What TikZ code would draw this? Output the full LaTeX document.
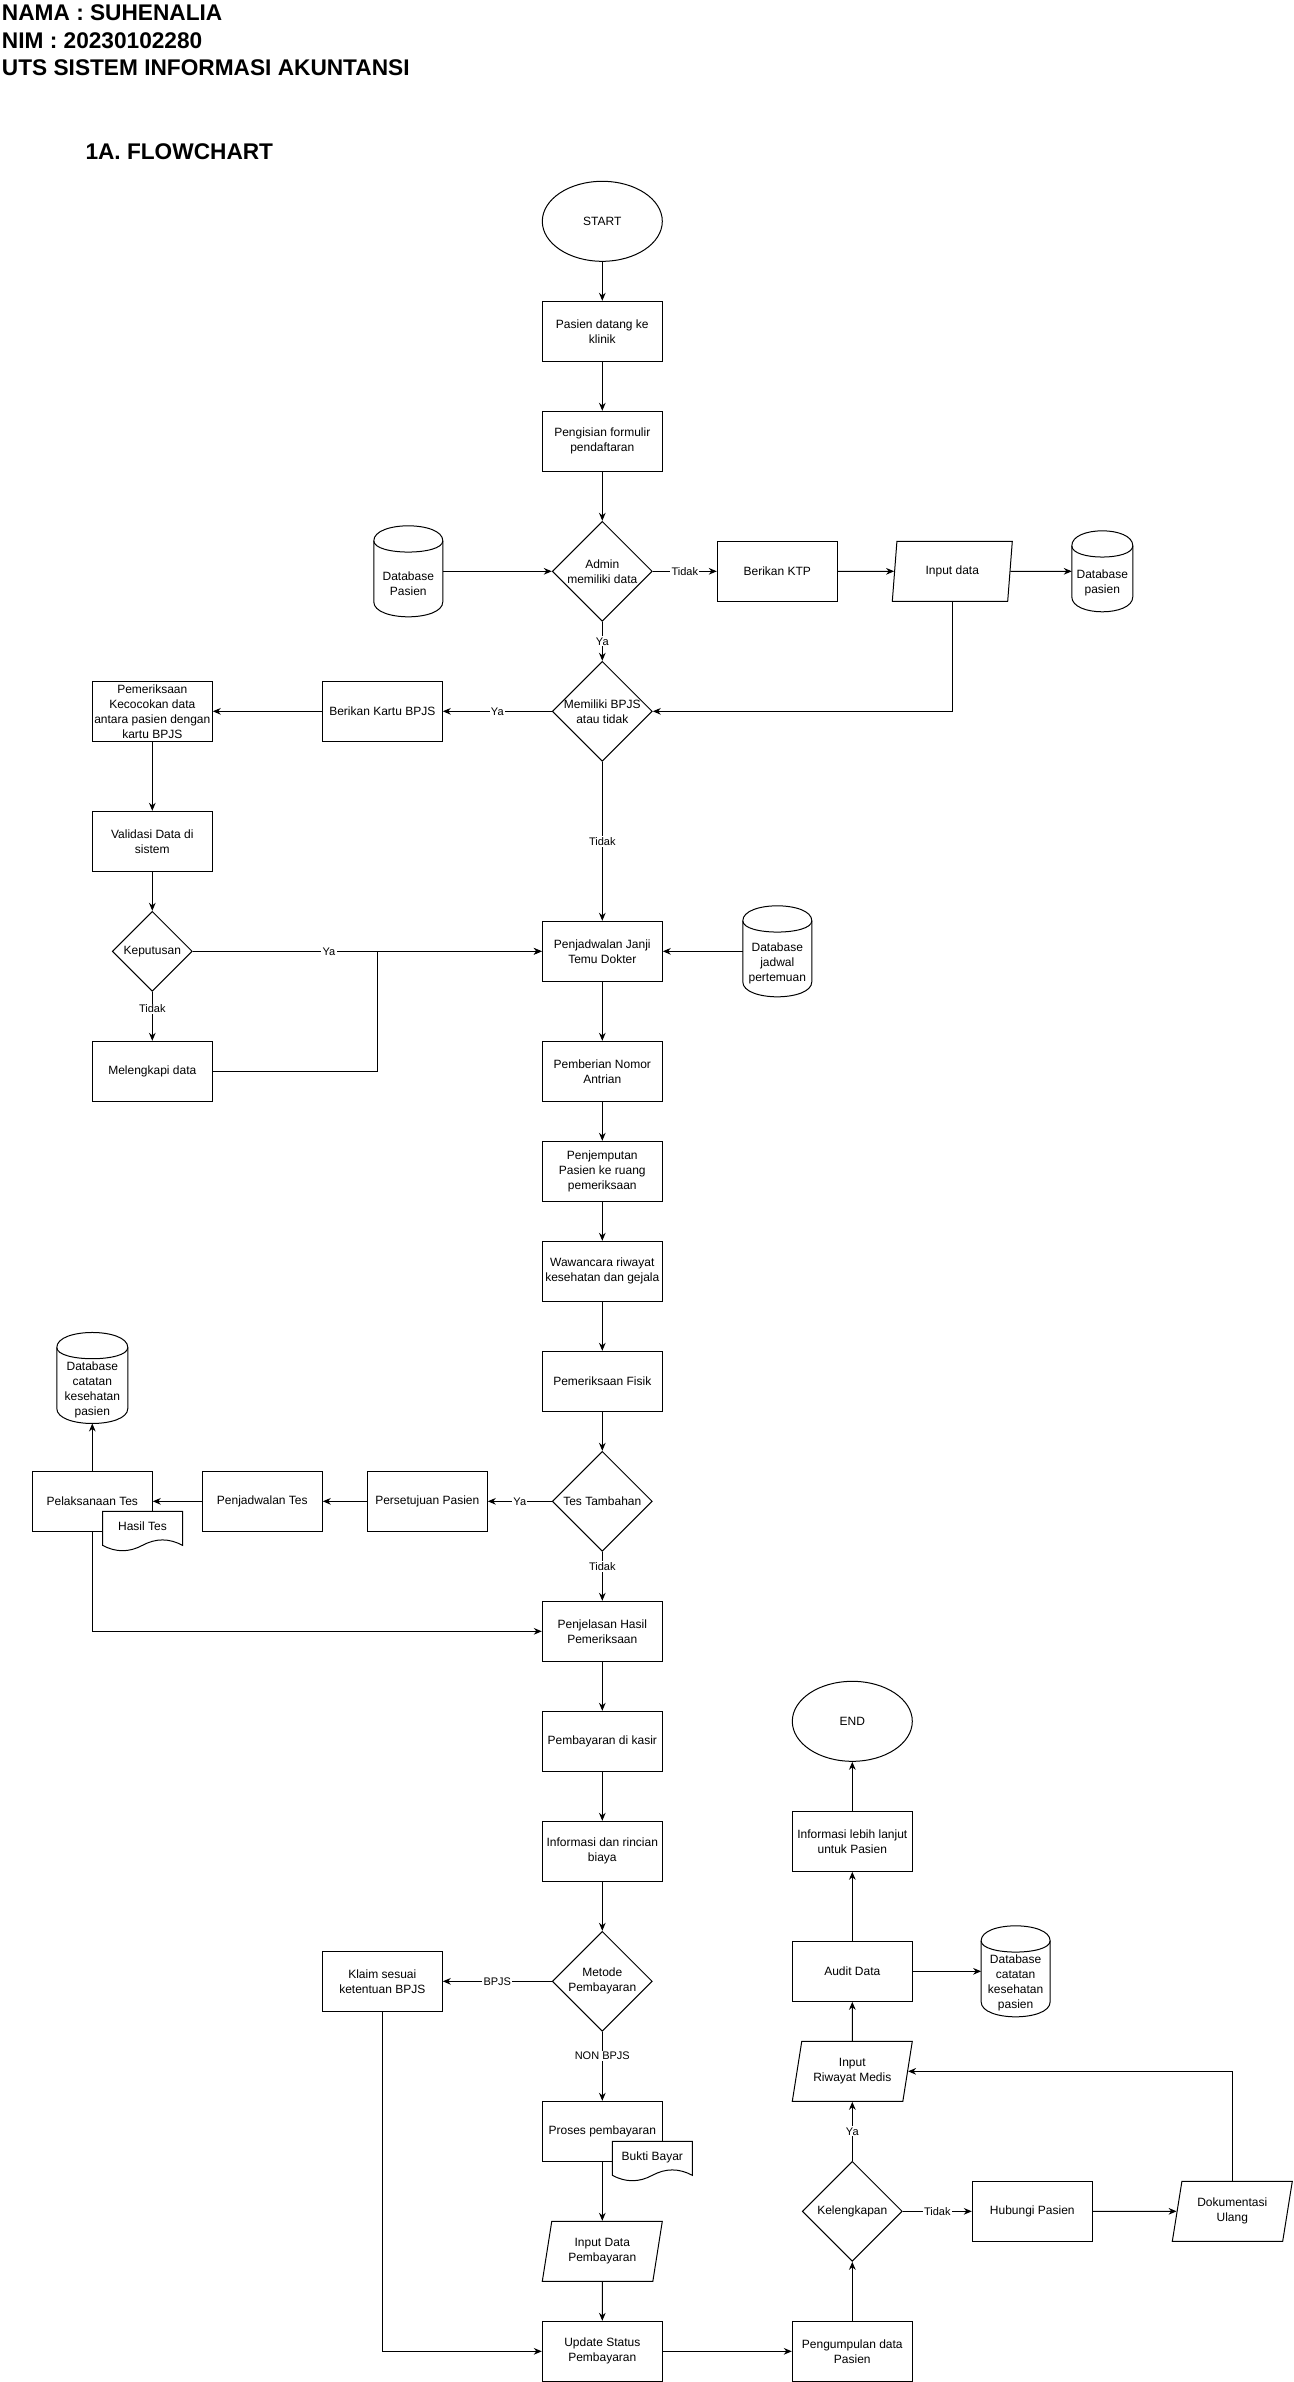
\documentclass[tikz,border=0pt]{standalone}
\usepackage{fontspec}
\setmainfont{Liberation Sans}
\usetikzlibrary{shapes.geometric,arrows.meta,positioning}

% outline of a database cylinder around a node
\newcommand{\tabung}[1]{%
  \draw ([yshift=-11.25pt]#1.north west)
    .. controls ([yshift=3.75pt]#1.north west) and ([yshift=3.75pt]#1.north east) .. ([yshift=-11.25pt]#1.north east)
    -- ([yshift=11.25pt]#1.south east)
    .. controls ([yshift=-3.75pt]#1.south east) and ([yshift=-3.75pt]#1.south west) .. ([yshift=11.25pt]#1.south west)
    -- cycle;
  \draw ([yshift=-11.25pt]#1.north west)
    .. controls ([yshift=-22.5pt]#1.north west) and ([yshift=-22.5pt]#1.north east) .. ([yshift=-11.25pt]#1.north east);}

\begin{document}
\begin{tikzpicture}[x=0.75pt,y=-0.75pt,line width=0.75pt,node distance=82.5pt,
    >={Stealth[length=6pt,width=5pt]},
    every node/.style={font=\fontsize{9}{11.25}\selectfont},
    kotak/.style={rectangle,draw,align=center,minimum width=90pt,minimum height=45pt,inner sep=1pt},
    mulai/.style={ellipse,draw,align=center,minimum width=90pt,minimum height=60pt},
    putusan/.style={diamond,draw,align=center,aspect=1,minimum width=75pt,minimum height=75pt,inner sep=-1pt},
    masukan/.style={trapezium,trapezium left angle=71.57,trapezium right angle=108.43,trapezium stretches body,draw,align=center,minimum width=90pt,minimum height=45pt,inner sep=1pt},
    basisdata/.style={rectangle,minimum width=51pt,minimum height=67.5pt,inner sep=0pt},
    isidb/.style={align=center,inner sep=0pt,yshift=-9pt},
    dokumen/.style={fill=white},
    lbl/.style={fill=white,inner sep=1pt,font=\fontsize{8.25}{9}\selectfont},
    judul/.style={anchor=base west,inner sep=0pt,font=\fontsize{17}{20}\selectfont\bfseries}]
  \useasboundingbox (0,0) rectangle (1293,2382);

  \node (nama) [judul] at (1.5,20.7) {NAMA : SUHENALIA};
  \node (nim) [judul] at (1.5,48) {NIM : 20230102280};
  \node (uts) [judul] at (1.5,75.3) {UTS SISTEM INFORMASI AKUNTANSI};
  \node (bagian) [judul] at (85,159.3) {1A. FLOWCHART};

  % pendaftaran
  \node (start) [mulai] at (602.3,221.3) {START};
  \node (datang) [kotak,below of=start] {Pasien datang ke\\klinik};
  \node (formulir) [kotak,below of=datang] {Pengisian formulir\\pendaftaran};
  \node (admin) [putusan,below of=formulir,yshift=-15pt] {Admin\\memiliki data};
  \node (dbpasien) [basisdata,left of=admin,xshift=-63pt,label={[isidb]center:Database\\Pasien}] {};
  \node (ktp) [kotak,right of=admin,xshift=48.75pt] {Berikan KTP};
  \node (inputdata) [masukan,right of=ktp,xshift=48.75pt] {Input data};
  \node (dbbaru) [basisdata,right of=inputdata,xshift=30pt,minimum width=45pt,minimum height=60pt,label={[isidb]center:Database\\pasien}] {};
  \node (bpjs) [putusan,below of=admin,yshift=-22.5pt] {Memiliki BPJS\\atau tidak};
  \node (kartu) [kotak,left of=bpjs,xshift=-82.5pt] {Berikan Kartu BPJS};
  \node (cocok) [kotak,left of=kartu,xshift=-90pt] {Pemeriksaan\\Kecocokan data\\antara pasien dengan\\kartu BPJS};
  \node (validasi) [kotak,below of=cocok,yshift=-15pt] {Validasi Data di\\sistem};
  \node (keputusan) [putusan,below of=validasi,minimum width=60pt,minimum height=60pt] {Keputusan};
  \node (lengkapi) [kotak,below of=keputusan,yshift=-7.5pt] {Melengkapi data};
  \node (janji) [kotak,below of=bpjs,yshift=-97.5pt] {Penjadwalan Janji\\Temu Dokter};
  \node (dbjadwal) [basisdata,right of=janji,xshift=48.75pt,label={[isidb]center:Database\\jadwal\\pertemuan}] {};

  % pemeriksaan
  \node (nomor) [kotak,below of=janji,yshift=-7.5pt] {Pemberian Nomor\\Antrian};
  \node (jemput) [kotak,below of=nomor,yshift=7.5pt] {Penjemputan\\Pasien ke ruang\\pemeriksaan};
  \node (wawancara) [kotak,below of=jemput,yshift=7.5pt] {Wawancara riwayat\\kesehatan dan gejala};
  \node (fisik) [kotak,below of=wawancara] {Pemeriksaan Fisik};
  \node (tes) [putusan,below of=fisik,yshift=-7.5pt] {Tes Tambahan};
  \node (setuju) [kotak,left of=tes,xshift=-48.75pt] {Persetujuan Pasien};
  \node (jadwaltes) [kotak,left of=setuju,xshift=-41.25pt] {Penjadwalan Tes};
  \node (laksana) [kotak,left of=jadwaltes,xshift=-45pt] {Pelaksanaan Tes};
  \node (dbtes) [basisdata,above of=laksana,yshift=10pt,minimum width=52.5pt,label={[isidb]center:Database\\catatan\\kesehatan\\pasien}] {};
  \node (jelas) [kotak,below of=tes,yshift=-15pt] {Penjelasan Hasil\\Pemeriksaan};

  % pembayaran
  \node (kasir) [kotak,below of=jelas] {Pembayaran di kasir};
  \node (rincian) [kotak,below of=kasir] {Informasi dan rincian\\biaya};
  \node (metode) [putusan,below of=rincian,yshift=-15pt] {Metode\\Pembayaran};
  \node (klaim) [kotak,left of=metode,xshift=-82.5pt] {Klaim sesuai\\ketentuan BPJS};
  \node (proses) [kotak,below of=metode,yshift=-30pt] {Proses pembayaran};
  \node (inputbayar) [masukan,below of=proses,yshift=-7.5pt] {Input Data\\Pembayaran};
  \node (update) [kotak,below of=inputbayar,yshift=7.5pt] {Update Status\\Pembayaran};

  % rekam medis
  \node (kumpul) [kotak,right of=update,xshift=105pt] {Pengumpulan data\\Pasien};
  \node (lengkap) [putusan,above of=kumpul,yshift=22.5pt] {Kelengkapan};
  \node (hubungi) [kotak,right of=lengkap,xshift=52.5pt] {Hubungi Pasien};
  \node (ulang) [masukan,right of=hubungi,xshift=67.5pt] {Dokumentasi\\Ulang};
  \node (medis) [masukan,above of=lengkap,yshift=22.5pt] {Input\\Riwayat Medis};
  \node (audit) [kotak,above of=medis,yshift=-7.5pt] {Audit Data};
  \node (dbaudit) [basisdata,right of=audit,xshift=40pt,label={[isidb]center:Database\\catatan\\kesehatan\\pasien}] {};
  \node (lanjut) [kotak,above of=audit,yshift=15pt] {Informasi lebih lanjut\\untuk Pasien};
  \node (selesai) [mulai,above of=lanjut,yshift=7.5pt] {END};

  \tabung{dbpasien}
  \tabung{dbbaru}
  \tabung{dbjadwal}
  \tabung{dbtes}
  \tabung{dbaudit}

  % dokumen
  \draw [dokumen,shift={(102.5,1511.3)}] (0,0) -- (80,0) -- (80,34) .. controls (66.67,26.8) and (53.33,26.8) .. (40,34) .. controls (26.67,41.2) and (13.33,41.2) .. (0,34) -- cycle;
  \node (hasil) at (142.5,1526) {Hasil Tes};
  \draw [dokumen,shift={(612.3,2141.3)}] (0,0) -- (80,0) -- (80,34) .. controls (66.67,26.8) and (53.33,26.8) .. (40,34) .. controls (26.67,41.2) and (13.33,41.2) .. (0,34) -- cycle;
  \node (bukti) at (652.3,2157) {Bukti Bayar};

  \draw [->] (start) -- (datang);
  \draw [->] (datang) -- (formulir);
  \draw [->] (formulir) -- (admin);
  \draw [->] (dbpasien) -- (admin);
  \draw [->] (admin) -- (ktp) node [lbl,midway] {Tidak};
  \draw [->] (ktp) -- (inputdata);
  \draw [->] (inputdata) -- (dbbaru);
  \draw [->] (admin) -- (bpjs) node [lbl,midway] {Ya};
  \draw [->] (inputdata) |- (bpjs);
  \draw [->] (bpjs) -- (kartu) node [lbl,midway] {Ya};
  \draw [->] (kartu) -- (cocok);
  \draw [->] (cocok) -- (validasi);
  \draw [->] (validasi) -- (keputusan);
  \draw [->] (keputusan) -- (janji) node [lbl,pos=0.39] {Ya};
  \draw [->] (keputusan) -- (lengkapi) node [lbl,pos=0.35] {Tidak};
  \coordinate (simpul) at (377,951.3);
  \draw [->] (lengkapi) -| (simpul) -- (janji);
  \draw [->] (bpjs) -- (janji) node [lbl,midway] {Tidak};
  \draw [->] (dbjadwal) -- (janji);
  \draw [->] (janji) -- (nomor);
  \draw [->] (nomor) -- (jemput);
  \draw [->] (jemput) -- (wawancara);
  \draw [->] (wawancara) -- (fisik);
  \draw [->] (fisik) -- (tes);
  \draw [->] (tes) -- (setuju) node [lbl,midway] {Ya};
  \draw [->] (setuju) -- (jadwaltes);
  \draw [->] (jadwaltes) -- (laksana);
  \draw [->] (laksana) -- (dbtes);
  \draw [->] (tes) -- (jelas) node [lbl,pos=0.3] {Tidak};
  \draw [->] (laksana) |- (jelas);
  \draw [->] (jelas) -- (kasir);
  \draw [->] (kasir) -- (rincian);
  \draw [->] (rincian) -- (metode);
  \draw [->] (metode) -- (klaim) node [lbl,midway] {BPJS};
  \draw [->] (metode) -- (proses) node [lbl,pos=0.35] {NON BPJS};
  \draw [->] (proses) -- (inputbayar);
  \draw [->] (inputbayar) -- (update);
  \draw [->] (klaim) |- (update);
  \draw [->] (update) -- (kumpul);
  \draw [->] (kumpul) -- (lengkap);
  \draw [->] (lengkap) -- (medis) node [lbl,midway] {Ya};
  \draw [->] (lengkap) -- (hubungi) node [lbl,midway] {Tidak};
  \draw [->] (hubungi) -- (ulang);
  \draw [->] (ulang) |- (medis);
  \draw [->] (medis) -- (audit);
  \draw [->] (audit) -- (lanjut);
  \draw [->] (audit) -- (dbaudit);
  \draw [->] (lanjut) -- (selesai);
\end{tikzpicture}
\end{document}
